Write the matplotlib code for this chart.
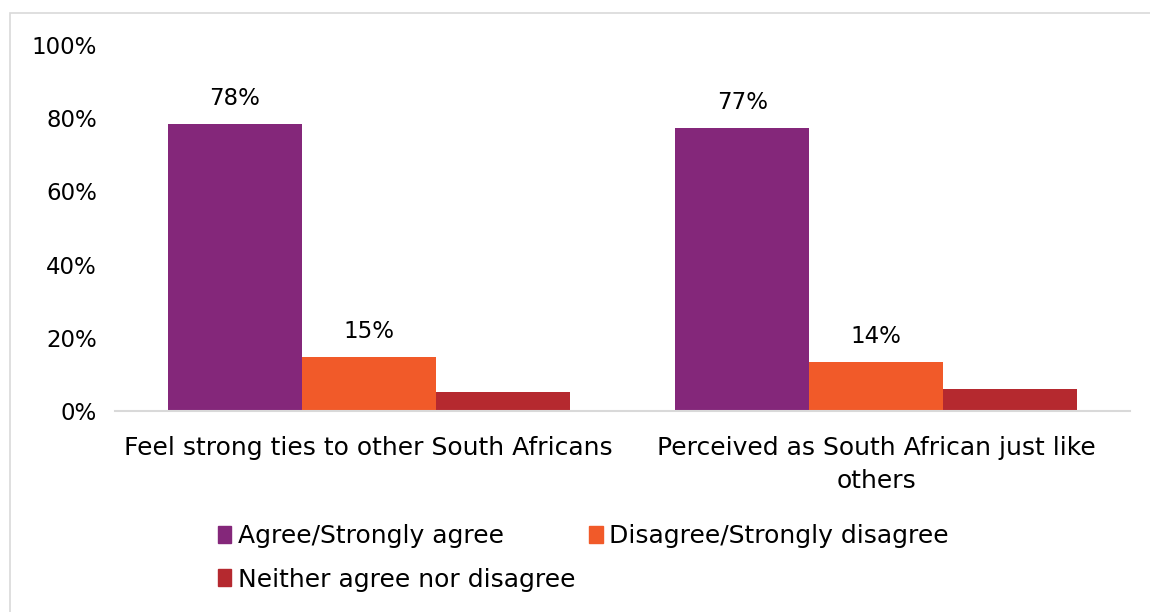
import matplotlib.pyplot as plt
import matplotlib.patches as mpatches
import numpy as np

plt.rcParams['font.family'] = ['DejaVu Sans']

# Data
categories = ["Feel strong ties to other South Africans",
              "Perceived as South African just like\nothers"]
series = ["Agree/Strongly agree", "Disagree/Strongly disagree", "Neither agree nor disagree"]
agree = [0.785, 0.773]
disagree = [0.147, 0.134]
neither = [0.052, 0.059]
labels_agree = ["78%", "77%"]
labels_disagree = ["15%", "14%"]
colors = ["#84277A", "#F15A29", "#B5292F"]

fig = plt.figure(figsize=(11.5, 6.12), dpi=100)
ax = fig.add_axes([0.1, 0.3284, 0.8826, 0.598])

x = np.arange(len(categories))
w = 0.264
vals = [agree, disagree, neither]
bars = []
for i, (v, c) in enumerate(zip(vals, colors)):
    b = ax.bar(x + (i - 1) * w, v, width=w, color=c, label=series[i])
    bars.append(b)

ax.bar_label(bars[0], labels=labels_agree, padding=10, fontsize=16.5)
ax.bar_label(bars[1], labels=labels_disagree, padding=10, fontsize=16.5)

ax.set_xlim(-0.5, 1.5)
ax.set_ylim(0, 1)
ax.set_yticks(np.arange(0, 1.01, 0.2))
ax.set_yticklabels([f"{int(t*100)}%" for t in np.arange(0, 1.01, 0.2)], fontsize=16.5)
ax.set_xticks(x)
ax.set_xticklabels(categories, fontsize=18, linespacing=1.45)
ax.tick_params(length=0)
ax.tick_params(axis='x', pad=18)
ax.tick_params(axis='y', pad=13)
for s in ["top", "right", "left"]:
    ax.spines[s].set_visible(False)
ax.spines["bottom"].set_color("#D9D9D9")
ax.spines["bottom"].set_linewidth(1.5)

# column-major fill -> order so rows read agree, disagree / neither
order = [0, 2, 1]
handles = [mpatches.Patch(color=colors[k], label=series[k]) for k in order]
fig.legend(handles=handles,
           loc="upper left", bbox_to_anchor=(0.1805, 0.160), ncol=2, frameon=False,
           fontsize=18, handlelength=0.55, handleheight=0.65, handletextpad=0.25,
           columnspacing=0.55, labelspacing=0.78, borderaxespad=0)

# outer chart border
fig.patches.append(mpatches.Rectangle((10 / 1150, -0.01), 1.0, 1 - 13 / 612 + 0.01,
                                      transform=fig.transFigure, fill=False,
                                      edgecolor="#D9D9D9", linewidth=1.2))

fig.savefig("out.png", dpi=100)
